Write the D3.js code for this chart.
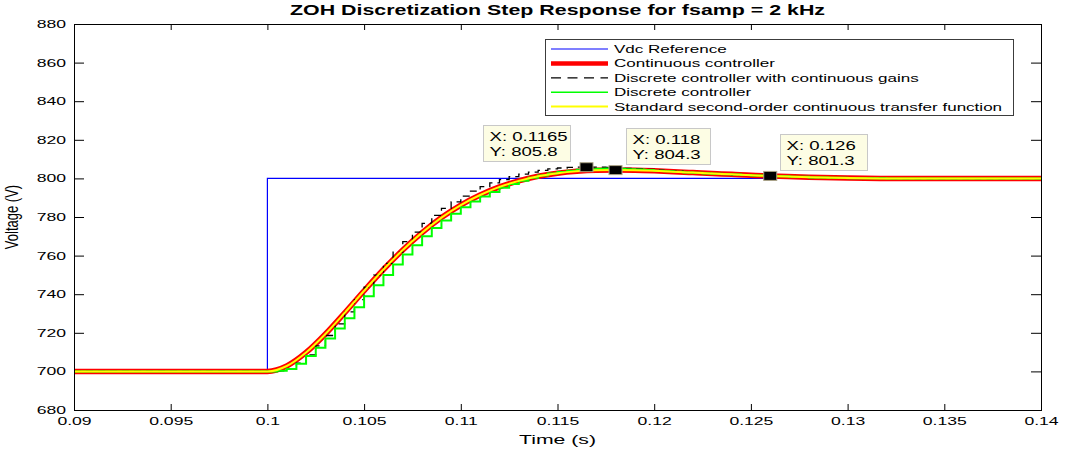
<!DOCTYPE html>
<html>
<head>
<meta charset="utf-8">
<script src="https://cdn.jsdelivr.net/npm/d3@7"></script>
<style>
  body { margin: 0; background: #fff; }
  svg text { font-family: "Liberation Sans", Arial, Helvetica, sans-serif; fill: #000; }
</style>
</head>
<body>
<svg id="chart" width="1065" height="450"></svg>
<script>
// axis ticks
const xTicks = [0.09, 0.095, 0.1, 0.105, 0.11, 0.115, 0.12, 0.125, 0.13, 0.135, 0.14];
const yTicks = [680, 700, 720, 740, 760, 780, 800, 820, 840, 860, 880];

// Vdc reference step
const refT = [0.09, 0.1, 0.14];
const refV = [700, 800, 800];

// continuous controller / standard second-order TF (smooth curves)
const contT = [0.09, 0.1, 0.101, 0.102, 0.103, 0.104, 0.105, 0.106, 0.107, 0.108, 0.109,
  0.11, 0.111, 0.112, 0.113, 0.114, 0.115, 0.116, 0.117, 0.118, 0.119,
  0.12, 0.121, 0.122, 0.123, 0.124, 0.125, 0.126, 0.128, 0.13, 0.133, 0.136, 0.14];
const contV = [700, 700, 702.8, 709.8, 719.4, 730.4, 741.8, 752.8, 762.9, 771.9, 779.7,
  786.2, 791.4, 795.6, 798.7, 801.1, 802.7, 803.7, 804.2, 804.3, 804.2,
  803.9, 803.5, 803.0, 802.5, 802.1, 801.6, 801.3, 800.6, 800.2, 799.9, 799.9, 800.0];
const stdV = [700, 700, 702.8, 709.8, 719.4, 730.4, 741.8, 752.8, 762.9, 771.9, 779.7,
  786.2, 791.4, 795.6, 798.7, 801.1, 802.7, 803.7, 804.2, 804.3, 804.2,
  803.9, 803.5, 803.0, 802.5, 802.1, 801.6, 801.3, 800.6, 800.2, 799.9, 799.9, 800.0];

// discrete (ZOH) samples, 0.5 ms
const discT = [0.09,
  0.1, 0.1005, 0.101, 0.1015, 0.102, 0.1025, 0.103, 0.1035, 0.104, 0.1045,
  0.105, 0.1055, 0.106, 0.1065, 0.107, 0.1075, 0.108, 0.1085, 0.109, 0.1095,
  0.11, 0.1105, 0.111, 0.1115, 0.112, 0.1125, 0.113, 0.1135, 0.114, 0.1145,
  0.115, 0.1155, 0.116, 0.1165, 0.117, 0.1175, 0.118, 0.1185, 0.119, 0.1195,
  0.12, 0.1205, 0.121, 0.1215, 0.122, 0.1225, 0.123, 0.1235, 0.124, 0.1245,
  0.125, 0.126, 0.127, 0.128, 0.129, 0.13, 0.132, 0.135, 0.14];
const discGainV = [700,
  700.0, 700.3, 701.2, 704.3, 708.6, 713.2, 718.6, 724.6, 730.8, 737.2,
  743.6, 749.9, 756.0, 761.8, 767.2, 772.2, 776.7, 780.8, 784.5, 787.8,
  790.8, 793.4, 795.7, 797.7, 799.4, 800.9, 802.2, 803.3, 804.2, 804.9,
  805.4, 805.7, 805.8, 805.8, 805.8, 805.7, 805.5, 805.2, 804.9, 804.6,
  804.3, 804.0, 803.7, 803.3, 803.0, 802.7, 802.4, 802.1, 801.8, 801.6,
  801.4, 801.0, 800.7, 800.4, 800.2, 800.1, 799.9, 799.9, 800.0];
const discV = [700,
  700.0, 700.3, 701.2, 704.0, 708.0, 712.3, 717.0, 722.2, 727.6, 733.3,
  738.9, 744.6, 750.0, 755.4, 760.6, 765.4, 770.0, 774.3, 778.2, 781.7,
  785.0, 788.0, 790.6, 793.0, 795.2, 797.1, 798.8, 800.3, 801.5, 802.5,
  803.3, 804.0, 804.5, 804.8, 805.0, 805.1, 805.0, 804.8, 804.6, 804.3,
  804.0, 803.7, 803.4, 803.1, 802.9, 802.6, 802.4, 802.2, 802.0, 801.7,
  801.5, 801.1, 800.8, 800.5, 800.3, 800.1, 799.95, 799.9, 800.0];

// data tips
const tipX = [0.1165, 0.118, 0.126];
const tipY = [805.8, 804.3, 801.3];
const tipXText = ["0.1165", "0.118", "0.126"];

const legendLabels = [
  "Vdc Reference",
  "Continuous controller",
  "Discrete controller with continuous gains",
  "Discrete controller",
  "Standard second-order continuous transfer function"
];

(function() {
  const SX = 1.55;  // figure is stretched horizontally
  const svg = d3.select("#chart");
  const mLeft = 74, mRight = 1041, mTop = 24, mBottom = 410;

  const x = d3.scaleLinear().domain([0.09, 0.14]).range([mLeft, mRight]);
  const y = d3.scaleLinear().domain([680, 880]).range([mBottom, mTop]);

  function label(g, str, px, py, size, anchor, weight, sx) {
    return g.append("text")
      .attr("transform", "translate(" + px + "," + py + ") scale(" + (sx || SX) + ",1)")
      .attr("text-anchor", anchor || "start")
      .style("font-size", size + "px")
      .style("font-weight", weight || "normal")
      .text(str);
  }

  // axes
  const fmt = d => String(+d.toFixed(3));

  const gx = svg.append("g")
    .attr("transform", "translate(0," + mBottom + ")")
    .call(d3.axisBottom(x).tickValues(xTicks).tickSize(-6).tickSizeOuter(0).tickPadding(7).tickFormat(fmt));
  svg.append("g")
    .attr("transform", "translate(0," + mTop + ")")
    .call(d3.axisTop(x).tickValues(xTicks).tickSize(-6).tickSizeOuter(0).tickFormat(""));
  const gy = svg.append("g")
    .attr("transform", "translate(" + mLeft + ",0)")
    .call(d3.axisLeft(y).tickValues(yTicks).tickSize(-10).tickSizeOuter(0).tickFormat(d3.format("d")));
  svg.append("g")
    .attr("transform", "translate(" + mRight + ",0)")
    .call(d3.axisRight(y).tickValues(yTicks).tickSize(-10).tickSizeOuter(0).tickFormat(""));

  svg.selectAll(".domain").remove();
  svg.selectAll(".tick line").attr("stroke", "#000");
  gx.attr("font-family", null).attr("font-size", null);
  gy.attr("font-family", null).attr("font-size", null);
  gx.selectAll("text")
    .style("font-size", "11px")
    .attr("transform", "scale(1.6,1)");
  gy.selectAll("text")
    .style("font-size", "11px")
    .attr("x", 0)
    .attr("transform", "translate(-8,0) scale(1.6,1)");

  // clip
  svg.append("clipPath").attr("id", "clip")
    .append("rect").attr("x", mLeft).attr("y", mTop).attr("width", mRight - mLeft).attr("height", mBottom - mTop);
  const plot = svg.append("g").attr("clip-path", "url(#clip)");

  const smooth = d3.line().curve(d3.curveMonotoneX).x(d => x(d[0])).y(d => y(d[1]));
  const step = d3.line().curve(d3.curveStepAfter).x(d => x(d[0])).y(d => y(d[1]));

  plot.append("path").datum(d3.zip(refT, refV))
    .attr("d", step).attr("fill", "none").attr("stroke", "#0000ff").attr("stroke-width", 1.2);
  plot.append("path").datum(d3.zip(contT, contV))
    .attr("d", smooth).attr("fill", "none").attr("stroke", "#ff0000").attr("stroke-width", 5.5);
  plot.append("path").datum(d3.zip(discT, discGainV))
    .attr("d", step).attr("fill", "none").attr("stroke", "#000").attr("stroke-width", 1.3)
    .attr("stroke-dasharray", "7,5");
  plot.append("path").datum(d3.zip(discT, discV))
    .attr("d", step).attr("fill", "none").attr("stroke", "#00ff00").attr("stroke-width", 2);
  plot.append("path").datum(d3.zip(contT, stdV))
    .attr("d", smooth).attr("fill", "none").attr("stroke", "#ffff00").attr("stroke-width", 2);

  // frame
  svg.append("rect")
    .attr("x", mLeft + 0.5).attr("y", mTop + 0.5)
    .attr("width", mRight - mLeft).attr("height", mBottom - mTop)
    .attr("fill", "none").attr("stroke", "#000").attr("stroke-width", 1);

  // data tips
  const tipOffset = [[-104, -42], [10, -42], [10, -42]];
  const tipW = [87, 84, 87];
  tipX.forEach((tx, i) => {
    const mx = x(tx), my = y(tipY[i]);
    const bx = Math.round(mx + tipOffset[i][0]) + 0.5, by = Math.round(my + tipOffset[i][1]) + 0.5;
    const g = svg.append("g");
    g.append("rect").attr("x", bx).attr("y", by).attr("width", tipW[i]).attr("height", 36)
      .attr("fill", "#fdfde4").attr("stroke", "#c8c8c8").attr("stroke-width", 1);
    label(g, "X: " + tipXText[i], bx + 6, by + 15, 12);
    label(g, "Y: " + tipY[i], bx + 6, by + 30, 12);
    svg.append("rect").attr("x", mx - 6.5).attr("y", my - 4.5).attr("width", 13).attr("height", 9)
      .attr("fill", "#000").attr("stroke", "#aca488").attr("stroke-width", 1);
  });

  // legend
  const lg = svg.append("g");
  lg.append("rect").attr("x", 545.5).attr("y", 39.5).attr("width", 468).attr("height", 76)
    .attr("fill", "#fff").attr("stroke", "#3c3c3c").attr("stroke-width", 1);
  const legendStyle = [
    {c: "#0000ff", w: 1.2, dash: null},
    {c: "#ff0000", w: 4.5, dash: null},
    {c: "#000", w: 1.2, dash: "10,6.5"},
    {c: "#00ff00", w: 1.5, dash: null},
    {c: "#ffff00", w: 2, dash: null}
  ];
  legendLabels.forEach((t, i) => {
    const ly = 49 + i * 14.4;
    lg.append("line").attr("x1", 551).attr("x2", 608).attr("y1", ly).attr("y2", ly)
      .attr("stroke", legendStyle[i].c).attr("stroke-width", legendStyle[i].w)
      .attr("stroke-dasharray", legendStyle[i].dash);
    label(lg, t, 614, ly + 4, 11);
  });

  // titles
  label(svg, "ZOH Discretization Step Response for fsamp = 2 kHz", (mLeft + mRight) / 2, 15, 13.8, "middle", "bold");
  label(svg, "Time (s)", (mLeft + mRight) / 2, 444, 13.7, "middle");
  svg.append("text")
    .attr("transform", "translate(18," + ((mTop + mBottom) / 2) + ") scale(1.35,1) rotate(-90)")
    .attr("text-anchor", "middle")
    .style("font-size", "13px")
    .text("Voltage (V)");
})();
</script>
</body>
</html>
